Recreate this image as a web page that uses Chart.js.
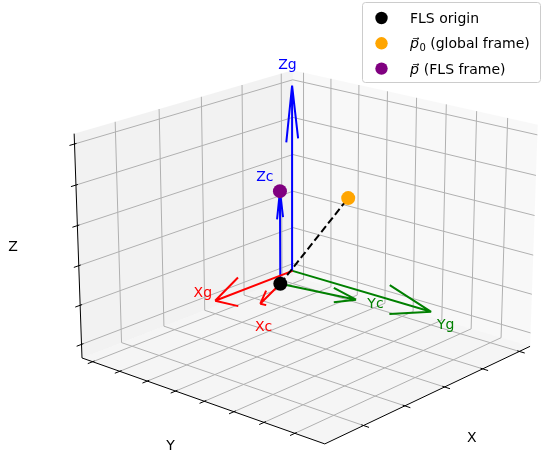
<!DOCTYPE html>
<html>
<head>
<meta charset="utf-8">
<script src="https://cdn.jsdelivr.net/npm/chart.js@4.4.0/dist/chart.umd.min.js"></script>
<style>
  html, body { margin: 0; padding: 0; background: #fff; }
  #wrap { width: 541px; height: 456px; }
</style>
</head>
<body>
<div id="wrap"><canvas id="chart"></canvas></div>
<script>
// axis limits and tick values (data units, tick labels hidden in the original)
const xLim = [-0.15, 2.45];
const yLim = [-0.08, 1.59];
const zLim = [-0.07, 1.05];
const xTicks = [0, 0.5, 1.0, 1.5, 2.0];
const yTicks = [0, 0.2, 0.4, 0.6, 0.8, 1.0, 1.2, 1.4];
const zTicks = [0, 0.2, 0.4, 0.6, 0.8, 1.0];

// quiver arrows: global frame at the origin, FLS frame (yawed ~15 deg) at the FLS origin
const arrowNames = ['Xg', 'Yg', 'Zg', 'Xc', 'Yc', 'Zc'];
const arrowStarts = [[0, 0, 0], [0, 0, 0], [0, 0, 0], [0.32, 0.09, 0], [0.32, 0.09, 0], [0.32, 0.09, 0]];
const arrowVectors = [[1, 0, 0], [0, 1, 0], [0, 0, 1], [0.483, 0.129, 0], [-0.129, 0.483, 0], [0, 0, 0.5]];
const arrowColors = ['red', 'green', 'blue', 'red', 'green', 'blue'];
const arrowLabelAt = [[1.15, 0, 0.065], [0, 1.1, -0.05], [0.06, 0, 1.115], [0.85, 0.27, -0.105], [0.18, 0.705, 0.005], [0.53, 0.1, 0.605]];

// scatter points
const pointNames = ['FLS origin', 'p\u20D7\u2080 (global frame)', 'p\u20D7 (FLS frame)'];
const pointCoords = [[0.32, 0.09, 0], [0.95, 0.92, 0.715], [0.32, 0.09, 0.5]];
const pointColors = ['black', 'orange', 'purple'];

// dashed line: FLS origin -> p0
const dashedFrom = [0.32, 0.09, 0];
const dashedTo = [0.95, 0.92, 0.715];

// ---- camera (perspective view of the 4:4:3 box) ----
const AZIM = 41 * Math.PI / 180, ELEV = 19 * Math.PI / 180, DIST = 14;
const HZ = 0.73, SCALE = 161.5, CX = 307.5, CY = 242.5;

function projectBox(b) {
  const sa = Math.sin(AZIM), ca = Math.cos(AZIM), se = Math.sin(ELEV), ce = Math.cos(ELEV);
  const r = -sa * b[0] + ca * b[1];
  const u = -se * ca * b[0] - se * sa * b[1] + ce * b[2];
  const d = ce * ca * b[0] + ce * sa * b[1] + se * b[2];
  const f = DIST / (DIST - d);
  return { x: CX + SCALE * r * f, y: CY - SCALE * u * f };
}
function project(p) {
  const n = (v, lim) => -1 + 2 * (v - lim[0]) / (lim[1] - lim[0]);
  return projectBox([n(p[0], xLim), n(p[1], yLim), HZ * n(p[2], zLim)]);
}
function segs(list) {
  const out = [];
  list.forEach(([a, b]) => out.push(project(a), project(b), { x: NaN, y: NaN }));
  return out;
}

const [x0, x1] = xLim, [y0, y1] = yLim, [z0, z1] = zLim;

// panes
const panes = [
  { pts: [[x0, y0, z0], [x1, y0, z0], [x1, y1, z0], [x0, y1, z0]], color: 'rgba(235,235,235,0.5)' },
  { pts: [[x0, y0, z0], [x1, y0, z0], [x1, y0, z1], [x0, y0, z1]], color: 'rgba(230,230,230,0.5)' },
  { pts: [[x0, y0, z0], [x0, y1, z0], [x0, y1, z1], [x0, y0, z1]], color: 'rgba(242,242,242,0.5)' }
];

// grid
const grid = [];
xTicks.forEach(t => { grid.push([[t, y0, z0], [t, y1, z0]], [[t, y0, z0], [t, y0, z1]]); });
yTicks.forEach(t => { grid.push([[x0, t, z0], [x1, t, z0]], [[x0, t, z0], [x0, t, z1]]); });
zTicks.forEach(t => { grid.push([[x0, y0, t], [x1, y0, t]], [[x0, y0, t], [x0, y1, t]]); });

// axis lines and tick marks
const axisLines = [[[x1, y0, z0], [x1, y1, z0]], [[x0, y1, z0], [x1, y1, z0]], [[x1, y0, z0], [x1, y0, z1]]];
const dx = (x1 - x0) / 12, dy = (y1 - y0) / 12;
const tickSegs = [];
xTicks.forEach(t => tickSegs.push([[t, y1 - 0.1 * dy, z0], [t, y1 + 0.25 * dy, z0]]));
yTicks.forEach(t => tickSegs.push([[x1 - 0.1 * dx, t, z0], [x1 + 0.25 * dx, t, z0]]));
zTicks.forEach(t => tickSegs.push([[x1 - 0.1 * dx, y0, t], [x1 + 0.25 * dx, y0, t]]));

// arrow heads the way matplotlib's quiver builds them (two barbs rotated +-15 deg)
function barbs(v) {
  const n = Math.hypot(v[0], v[1]);
  const xp = n ? v[1] / n : 0, yp = n ? -v[0] / n : 1;
  const c = Math.cos(Math.PI / 12), s = Math.sin(Math.PI / 12);
  return [1, -1].map(sg => {
    const R = [[c + xp * xp * (1 - c), xp * yp * (1 - c), sg * yp * s],
               [xp * yp * (1 - c), c + yp * yp * (1 - c), -sg * xp * s],
               [-sg * yp * s, sg * xp * s, c]];
    return R.map(row => row[0] * v[0] + row[1] * v[1] + row[2] * v[2]);
  });
}

const datasets = [];
panes.forEach(p => datasets.push({
  data: p.pts.map(project), fill: 'shape', backgroundColor: p.color,
  borderWidth: 0, pointRadius: 0, order: 100
}));
datasets.push({ data: segs(grid), borderColor: '#b0b0b0', borderWidth: 1, pointRadius: 0, order: 90 });
datasets.push({ data: segs(axisLines.concat(tickSegs)), borderColor: '#000', borderWidth: 1, pointRadius: 0, order: 80 });

arrowStarts.forEach((s, i) => {
  const v = arrowVectors[i];
  const tip = [s[0] + v[0], s[1] + v[1], s[2] + v[2]];
  const list = [[s, tip]];
  barbs(v).forEach(h => list.push([tip, [tip[0] - 0.3 * h[0], tip[1] - 0.3 * h[1], tip[2] - 0.3 * h[2]]]));
  datasets.push({ data: segs(list), borderColor: arrowColors[i], borderWidth: 2, pointRadius: 0, order: 50 });
});
datasets.push({ data: [project(dashedFrom), project(dashedTo)], borderColor: '#000', borderWidth: 2,
  borderDash: [7.5, 3.5], pointRadius: 0, order: 40 });
pointCoords.forEach((p, i) => datasets.push({
  label: pointNames[i], data: [project(p)], showLine: false, pointRadius: 7, pointBorderWidth: 0,
  pointBackgroundColor: pointColors[i], backgroundColor: pointColors[i], order: 10 - i
}));

const font = '14px "DejaVu Sans"';
const textPlugin = {
  id: 'texts',
  afterDatasetsDraw(chart) {
    const { ctx, scales: { x, y } } = chart;
    const pix = p => [x.getPixelForValue(p.x), y.getPixelForValue(p.y)];
    ctx.save();
    ctx.font = font;
    ctx.textAlign = 'center';
    ctx.textBaseline = 'middle';
    arrowNames.forEach((n, i) => {
      const [a, b] = pix(project(arrowLabelAt[i]));
      ctx.fillStyle = arrowColors[i];
      ctx.fillText(n, a, b);
    });
    // axis titles
    ctx.fillStyle = '#000';
    [['X', [0, 1.30, -0.94]], ['Y', [1.3, 0.06, -0.92]], ['Z', [1.3, -1.26, 0.02]]].forEach(([t, b]) => {
      const [a, c] = pix(projectBox(b));
      ctx.fillText(t, a, c);
    });
    // legend box
    ctx.beginPath();
    ctx.roundRect(362.5, 2.5, 178, 80, 3);
    ctx.fillStyle = 'rgba(255,255,255,0.8)';
    ctx.fill();
    ctx.strokeStyle = '#cccccc';
    ctx.lineWidth = 1;
    ctx.stroke();
    ctx.textAlign = 'left';
    ctx.textBaseline = 'alphabetic';
    pointNames.forEach((n, i) => {
      const cy = 18 + i * 25.3, base = cy + 5;
      ctx.beginPath();
      ctx.arc(381.5, cy, 6.2, 0, 2 * Math.PI);
      ctx.fillStyle = pointColors[i];
      ctx.fill();
      ctx.fillStyle = '#000';
      let xx = 410;
      if (n.startsWith('p\u20D7')) {
        ctx.font = 'italic 14px "DejaVu Sans"';
        ctx.fillText('p\u20D7', xx, base);
        xx += ctx.measureText('p').width + 0.5;
        n = n.slice(2);
        if (n.startsWith('\u2080')) {
          ctx.font = '10px "DejaVu Sans"';
          ctx.fillText('0', xx, base + 2.5);
          xx += ctx.measureText('0').width;
          n = n.slice(1);
        }
        ctx.font = font;
      }
      ctx.fillText(n, xx, base);
    });
    ctx.restore();
  }
};

new Chart(document.getElementById('chart'), {
  type: 'line',
  data: { datasets },
  options: {
    responsive: true,
    maintainAspectRatio: false,
    animation: false,
    events: [],
    layout: { padding: 0, autoPadding: false },
    plugins: { legend: { display: false }, tooltip: { enabled: false } },
    scales: {
      x: { type: 'linear', min: 0, max: 541, display: false },
      y: { type: 'linear', min: 0, max: 456, reverse: true, display: false }
    }
  },
  plugins: [textPlugin]
});
</script>
</body>
</html>
